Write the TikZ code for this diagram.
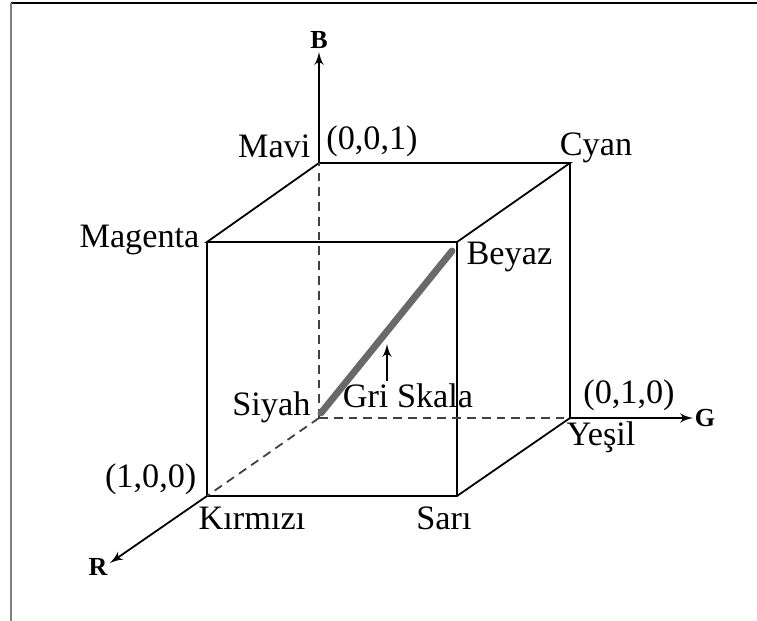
\documentclass[tikz,border=0pt]{standalone}
\usepackage{fontspec}
\setmainfont{Liberation Serif}
\usetikzlibrary{arrows,positioning,calc}
\definecolor{grayscale}{RGB}{105,105,105}

\begin{document}
\begin{tikzpicture}[x=0.365pt,y=-0.365pt,>=latex',line width=0.65pt,every node/.style={font=\fontsize{12.5}{14}\selectfont,inner sep=1pt},axislabel/.style={font=\fontsize{9.5}{10}\selectfont\bfseries},hidden/.style={dash pattern=on 3.2pt off 2.2pt,black!75}]
\useasboundingbox (0,0) rectangle (757,621);
\draw[line width=0.5pt](11,3)--(757,3); \draw[gray,line width=0.7pt](11,3)--(11,621);
% cube corners
\coordinate(siyah) at (319,418); \coordinate(mavi) at (319,163);
\coordinate(yesil) at (570,418); \coordinate(cyan) at (570,163);
\coordinate(kirmizi) at (207,496); \coordinate(magenta) at (207,242);
\coordinate(sari) at (457,496); \coordinate(beyaz) at (457,242);
\coordinate(btip) at (319,52); \coordinate(gtip) at (693,418); \coordinate(rtip) at (110,563);
% edges
\draw(mavi)--(cyan)--(beyaz)--(magenta)--cycle;
\draw(magenta)--(kirmizi)--(sari)--(beyaz); \draw(sari)--(yesil)--(cyan);
\draw[hidden](siyah)--(mavi); \draw[hidden](siyah)--(yesil); \draw[hidden](siyah)--(kirmizi);
\draw[->,>={latex'[scale=1.3]}](mavi)--(btip); \draw[->,>={latex'[scale=1.3]}](yesil)--(gtip); \draw[->,>={latex'[scale=1.3]}](kirmizi)--(rtip);
% gray scale
\coordinate(gs0) at (321,413); \coordinate(gs1) at (452,251);
\draw[grayscale,line width=2.5pt,line cap=round](gs0)--(gs1);
\coordinate(gsarrow0) at (387,381); \coordinate(gsarrow1) at (387,344);
\draw[->,>={latex'[scale=1.3]}](gsarrow0)--(gsarrow1);
% labels
\node[axislabel](bl) at (319,40){B};
\node[axislabel](gl) at (705,418){G};
\node[axislabel](rl) at (98,567){R};
\node[anchor=east](mavil) at (314,146){Mavi};
\node(p001) at (372,141){(0,0,1)};
\node(cyanl) at (596,148){Cyan};
\node[anchor=east](magental) at (203,240){Magenta};
\node[anchor=west](beyazl) at (463,257){Beyaz};
\node[anchor=east](siyahl) at (314,407){Siyah};
\node(grisk) at (408,396){Gri Skala};
\node(p010) at (629,395){(0,1,0)};
\node(yesill) at (601,437){Yeşil};
\node[anchor=east](p100) at (200,479){(1,0,0)};
\node(kirmizil) at (252,518){Kırmızı};
\node(saril) at (444,518){Sarı};
\end{tikzpicture}
\end{document}
